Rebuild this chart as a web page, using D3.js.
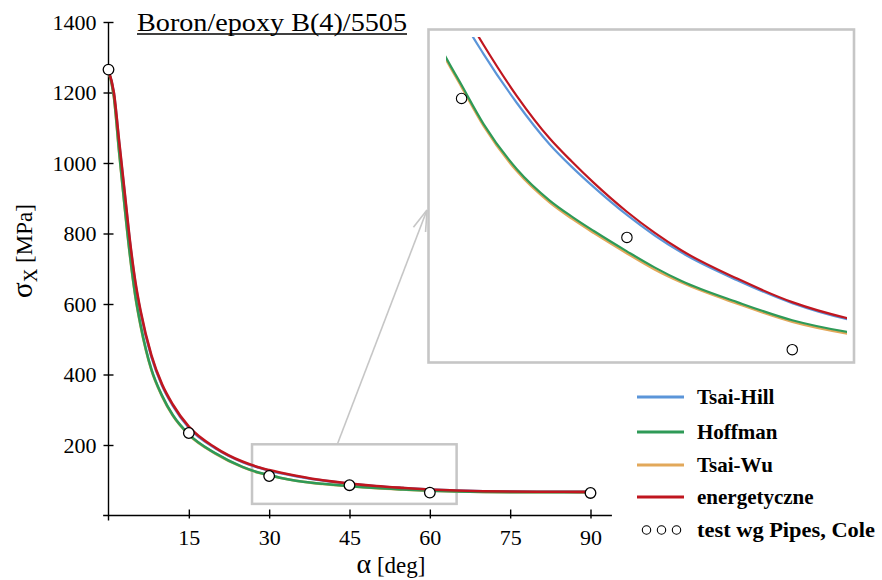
<!DOCTYPE html>
<html><head><meta charset="utf-8">
<script src="https://cdn.jsdelivr.net/npm/d3@7"></script>
<style>
body{margin:0;background:#fff}
svg{display:block}
text{font-family:"Liberation Serif","Times New Roman",serif;fill:#000}
</style>
</head><body>
<svg id="c" width="882" height="580"></svg>
<script>
// ---- data ----
const angles       = [0,    1,    2,    3,   4,   5,   6,   8,   10,  12,    15,  20,  25,    28,    30,    32,    35,    38,    40,   42,   45,   47.5, 50,   55,   60,   65,   70,   75,   80,   85,   90];
const tsaiHill     = [1262, 1198, 1055, 915, 775, 660, 575, 451, 369, 312,   249, 190, 151.5, 136,   127.2, 120.3, 111.2, 103.4, 99.2, 95.4, 90.2, 86.4, 83.1, 78,   73.7, 70.7, 68.9, 67.9, 67.4, 67.1, 66.9];
const hoffman      = [1262, 1190, 1030, 880, 740, 625, 540, 415, 340, 285,   230, 176, 138,   122,   114.5, 107.2, 98.8,  92.9,  89.9, 87.2, 83.4, 80.4, 77.8, 73.9, 70.5, 68.3, 66.9, 66.4, 66.3, 66.3, 66.3];
const tsaiWu       = [1262, 1188, 1027, 877, 737, 622, 537, 413, 338, 283.5, 229, 175, 137.4, 121.6, 114.1, 106.8, 98.4,  92.5,  89.5, 86.8, 83.0, 80.0, 77.5, 73.6, 70.2, 68.0, 66.6, 66.1, 66.0, 66.0, 66.0];
const energetyczne = [1262, 1200, 1060, 920, 780, 665, 580, 455, 372, 315,   252, 192, 153,   137,   129,   122,   112.5, 104.5, 100.2,96.2, 90.8, 86.9, 83.5, 78.3, 73.9, 70.9, 69,   68,   67.5, 67.2, 67];
const testAngles = [0, 15, 30, 45, 60, 90];
const testValues = [1265, 234, 112, 86, 65, 64];
const seriesNames = ["Tsai-Hill", "Hoffman", "Tsai-Wu", "energetyczne"];
const testLabel = "test wg Pipes, Cole";
const xTicks = [15, 30, 45, 60, 75, 90];
const yTicks = [200, 400, 600, 800, 1000, 1200, 1400];
const titleText = "Boron/epoxy B(4)/5505";
const zoomWindowX = [26.8, 65];   // highlighted window in main chart (deg)
const zoomWindowY = [33, 202];    // (MPa)
const insetX = [27, 65.6];        // inset domain
const insetY = [62.6, 124.9];

// ---- styles ----
const FONT = '"Liberation Serif", "Times New Roman", serif';
const colors = ["#5b95d9", "#2e9a57", "#e2a85a", "#c0161f"];
const drawOrder = [0, 2, 1, 3]; // blue, orange, green, red
const valuesByName = {"Tsai-Hill": tsaiHill, "Hoffman": hoffman, "Tsai-Wu": tsaiWu, "energetyczne": energetyczne};

const svg = d3.select("#c");
const x = d3.scaleLinear().domain([0, 90]).range([108.5, 590.5]);
const y = d3.scaleLinear().domain([0, 1400]).range([515.5, 22]);

// ---- zoom window + connector ----
const grey = "#c6c6c6";
svg.append("rect")
  .attr("x", x(zoomWindowX[0])).attr("y", y(zoomWindowY[1]))
  .attr("width", x(zoomWindowX[1]) - x(zoomWindowX[0]))
  .attr("height", y(zoomWindowY[0]) - y(zoomWindowY[1]))
  .attr("fill", "none").attr("stroke", grey).attr("stroke-width", 2.5);

const ax0 = x(zoomWindowX[0]) + 0.417 * (x(zoomWindowX[1]) - x(zoomWindowX[0]));
const ay0 = y(zoomWindowY[1]);
const ax1 = 427, ay1 = 210;
svg.append("line").attr("x1", ax0).attr("y1", ay0).attr("x2", ax1).attr("y2", ay1)
  .attr("stroke", grey).attr("stroke-width", 1.6);
{
  const ang = Math.atan2(ay0 - ay1, ax0 - ax1);
  [-0.3, 0.3].forEach(d => {
    svg.append("line").attr("x1", ax1).attr("y1", ay1)
      .attr("x2", ax1 + 22 * Math.cos(ang + d)).attr("y2", ay1 + 22 * Math.sin(ang + d))
      .attr("stroke", grey).attr("stroke-width", 1.6);
  });
}

// ---- axes ----
const gy = svg.append("g").attr("transform", `translate(${x(0)},0)`);
gy.call(d3.axisLeft(y).tickValues(yTicks).tickFormat(d3.format("d")).tickSize(5).tickPadding(7));
gy.attr("font-family", null).attr("font-size", null);
gy.select(".domain").remove();
gy.append("line").attr("y1", y(0) + 5).attr("y2", y(1400)).attr("stroke", "#000").attr("stroke-width", 1.4);
gy.selectAll(".tick line").attr("x1", 5).attr("x2", -5).attr("stroke", "#000").attr("stroke-width", 1.4);
gy.selectAll(".tick text").style("font-size", "22px");

const gx = svg.append("g").attr("transform", `translate(0,${y(0)})`);
gx.call(d3.axisBottom(x).tickValues(xTicks).tickFormat(d3.format("d")).tickSize(3).tickPadding(11));
gx.attr("font-family", null).attr("font-size", null);
gx.select(".domain").remove();
gx.append("line").attr("x1", x(-1)).attr("x2", x(94)).attr("stroke", "#000").attr("stroke-width", 1.4);
gx.selectAll(".tick line").attr("y1", -6).attr("stroke", "#000").attr("stroke-width", 1.4);
gx.selectAll(".tick text").style("font-size", "22px");

// ---- main curves ----
const lineMain = d3.line().x((d, i) => x(angles[i])).y(d => y(d)).curve(d3.curveMonotoneX);
drawOrder.forEach(k => {
  const name = seriesNames[k];
  svg.append("path").datum(valuesByName[name]).attr("d", lineMain)
    .attr("fill", "none").attr("stroke", colors[k]).attr("stroke-width", 2.6);
});
svg.append("g").selectAll("circle").data(testAngles).join("circle")
  .attr("cx", d => x(d)).attr("cy", (d, i) => y(testValues[i])).attr("r", 5.3)
  .attr("fill", "#fff").attr("stroke", "#000").attr("stroke-width", 1.3);

// ---- inset ----
const ix = d3.scaleLinear().domain(insetX).range([428.5, 854]);
const iy = d3.scaleLinear().domain(insetY).range([362.5, 29.5]);
svg.append("rect").attr("x", ix(insetX[0])).attr("y", iy(insetY[1]))
  .attr("width", ix(insetX[1]) - ix(insetX[0])).attr("height", iy(insetY[0]) - iy(insetY[1]))
  .attr("fill", "#fff").attr("stroke", grey).attr("stroke-width", 2.6);
svg.append("clipPath").attr("id", "ic").append("rect")
  .attr("x", 446).attr("y", 37).attr("width", 401).attr("height", 324);
const gi = svg.append("g").attr("clip-path", "url(#ic)");
const lineInset = d3.line().x((d, i) => ix(angles[i])).y(d => iy(d)).curve(d3.curveMonotoneX);
drawOrder.forEach(k => {
  const name = seriesNames[k];
  gi.append("path").datum(valuesByName[name]).attr("d", lineInset)
    .attr("fill", "none").attr("stroke", colors[k]).attr("stroke-width", 2.2);
});
const insetPts = testAngles.map((a, i) => [a, testValues[i]]).filter(p => p[0] >= insetX[0] && p[0] <= insetX[1]);
svg.append("g").selectAll("circle").data(insetPts).join("circle")
  .attr("cx", d => ix(d[0])).attr("cy", d => iy(d[1])).attr("r", 5.2)
  .attr("fill", "#fff").attr("stroke", "#000").attr("stroke-width", 1.1);

// ---- title ----
svg.append("text").attr("x", 137).attr("y", 31).style("font-size", "26px")
  .attr("textLength", 270).attr("lengthAdjust", "spacingAndGlyphs").text(titleText);
svg.append("line").attr("x1", 137).attr("x2", 407).attr("y1", 34).attr("y2", 34)
  .attr("stroke", "#000").attr("stroke-width", 1.3);

// ---- axis titles ----
const yl = svg.append("text").attr("transform", "translate(32,298) rotate(-90)").style("font-size", "23px");
yl.append("tspan").text("σ").style("font-size", "29px");
yl.append("tspan").text("X").style("font-size", "19px").attr("dy", 5);
yl.append("tspan").text(" [MPa]").attr("dy", -5);

const xl = svg.append("text").attr("x", 391).attr("y", 573).attr("text-anchor", "middle").style("font-size", "23px");
xl.append("tspan").text("α").style("font-size", "28px");
xl.append("tspan").text(" [deg]");

// ---- legend ----
const legendRows = [397, 432, 465, 497];
const lg = svg.append("g");
seriesNames.forEach((name, k) => {
  const yy = legendRows[k];
  lg.append("line").attr("x1", 637).attr("x2", 684).attr("y1", yy).attr("y2", yy)
    .attr("stroke", colors[k]).attr("stroke-width", 2.8);
  lg.append("text").attr("x", 697).attr("y", yy).attr("dy", "0.35em")
    .style("font-size", "21px").style("font-weight", "bold").text(name);
});
[646.5, 661.5, 676.5].forEach(cx => {
  lg.append("circle").attr("cx", cx).attr("cy", 530).attr("r", 4.2)
    .attr("fill", "#fff").attr("stroke", "#000").attr("stroke-width", 1.1);
});
lg.append("text").attr("x", 697).attr("y", 530).attr("dy", "0.35em")
  .style("font-size", "21px").style("font-weight", "bold")
  .attr("textLength", 178).attr("lengthAdjust", "spacingAndGlyphs").text(testLabel);

svg.selectAll("text").style("font-family", FONT).style("fill", "#000");
</script>
</body></html>
